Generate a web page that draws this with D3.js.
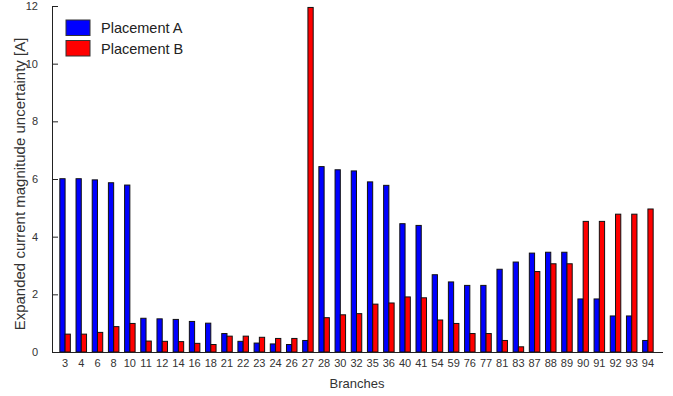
<!DOCTYPE html>
<html><head><meta charset="utf-8">
<script src="https://cdn.jsdelivr.net/npm/d3@7"></script>
<style>body{margin:0;background:#fff}svg{display:block}text{font-family:"Liberation Sans",Arial,sans-serif}</style>
</head><body><svg id="c" width="673" height="396"></svg>
<script>
const branches = ["3","4","6","8","10","11","12","14","16","18","21","22","23","24","26","27","28","30","32","35","36","40","41","54","59","76","77","81","83","87","88","89","90","91","92","93","94"];
const placementA = [6.01,6.01,5.97,5.87,5.79,1.17,1.15,1.13,1.06,1.0,0.64,0.37,0.31,0.28,0.26,0.40,6.43,6.32,6.28,5.90,5.78,4.45,4.39,2.68,2.43,2.31,2.31,2.87,3.12,3.43,3.46,3.46,1.84,1.84,1.25,1.25,0.40];
const placementB = [0.62,0.62,0.68,0.88,0.99,0.38,0.37,0.36,0.30,0.26,0.55,0.55,0.51,0.47,0.47,11.95,1.19,1.29,1.33,1.66,1.70,1.91,1.88,1.11,0.99,0.64,0.64,0.40,0.18,2.79,3.06,3.06,4.53,4.53,4.78,4.78,4.96];
const yTicks = [0,2,4,6,8,10,12];
const seriesNames = ["Placement A","Placement B"];
const colors = ["#0000ff","#ff0000"];

const svg = d3.select("#c");
const L = 52, R = 663, T = 6, B = 352;
const x = d3.scaleBand().domain(branches).range([57, 656]).paddingInner(0).paddingOuter(0);
const x1 = d3.scaleBand().domain([0,1]).range([0, x.bandwidth()]).paddingInner(0).paddingOuter(0.54);
const y = d3.scaleLinear().domain([0,12]).range([B, T]);

const g = svg.append("g");
branches.forEach((b,i)=>{
  [placementA[i], placementB[i]].forEach((v,s)=>{
    g.append("rect")
      .attr("x", x(b)+x1(s))
      .attr("width", x1.bandwidth())
      .attr("y", y(v))
      .attr("height", B - y(v))
      .attr("fill", colors[s])
      .attr("stroke", "#111")
      .attr("stroke-width", 1);
  });
});

// y axis
const ya = svg.append("g").attr("transform", `translate(${L},0)`)
  .call(d3.axisLeft(y).tickValues(yTicks).tickSizeInner(-6).tickSizeOuter(0).tickPadding(14));
ya.select(".domain").attr("stroke","#222");
ya.selectAll(".tick line").attr("stroke","#222");
ya.selectAll("text").attr("font-size","11px").attr("fill","#333");

// x axis
const xa = svg.append("g").attr("transform", `translate(0,${B})`)
  .call(d3.axisBottom(x).tickSize(0).tickPadding(7));
xa.select(".domain").attr("d", `M${L},0.5H${R}`).attr("stroke","#222");
xa.selectAll("text").attr("font-size","11px").attr("fill","#333");

svg.append("text").attr("x", 357).attr("y", 388).attr("text-anchor","middle")
  .attr("font-size","13px").attr("fill","#333").text("Branches");
svg.append("text").attr("transform","translate(25,184) rotate(-90)").attr("text-anchor","middle")
  .attr("font-size","15px").attr("fill","#333").text("Expanded current magnitude uncertainty [A]");

// legend
const lg = svg.append("g");
seriesNames.forEach((n,i)=>{
  lg.append("rect").attr("x",66).attr("y",20+i*20.5).attr("width",24).attr("height",15.5)
    .attr("fill",colors[i]).attr("stroke","#333");
  lg.append("text").attr("x",101).attr("y",33+i*20.5).attr("font-size","14.5px").attr("fill","#222").text(n);
});
</script></body></html>
